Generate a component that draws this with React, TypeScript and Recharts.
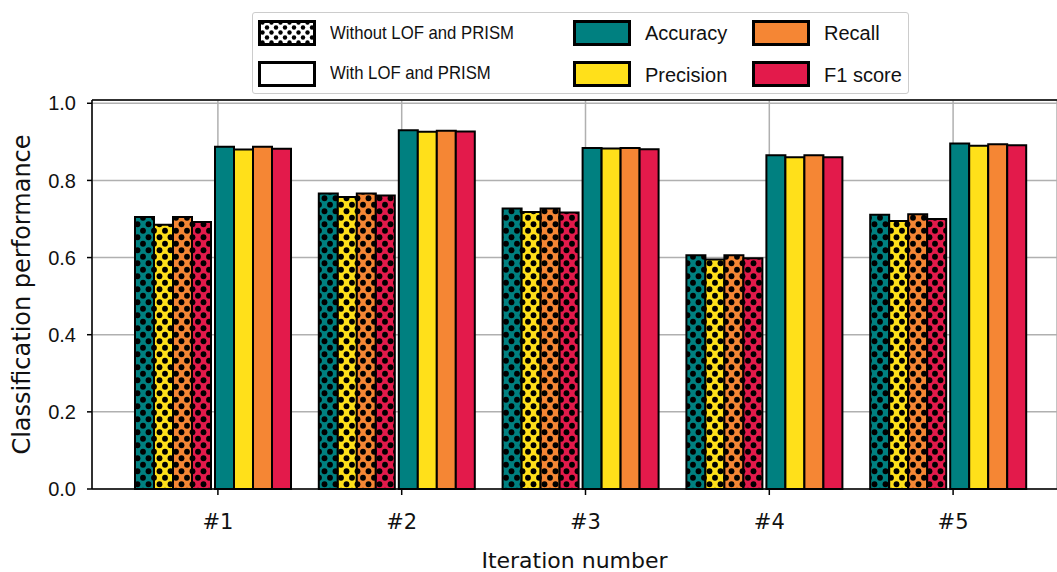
import React from 'react';
import {
  BarChart, Bar, XAxis, YAxis, CartesianGrid, ReferenceLine,
} from 'recharts';

const ITERATIONS = ['#1', '#2', '#3', '#4', '#5'];
const Y_TICKS = [0, 0.2, 0.4, 0.6, 0.8, 1.0];

// without LOF and PRISM (hatched bars)
const woAccuracy = [0.705, 0.766, 0.727, 0.606, 0.711];
const woPrecision = [0.685, 0.757, 0.718, 0.595, 0.695];
const woRecall = [0.705, 0.766, 0.727, 0.606, 0.712];
const woF1 = [0.692, 0.761, 0.717, 0.598, 0.700];

// with LOF and PRISM (solid bars)
const wAccuracy = [0.887, 0.930, 0.884, 0.865, 0.896];
const wPrecision = [0.880, 0.926, 0.883, 0.860, 0.890];
const wRecall = [0.887, 0.929, 0.884, 0.865, 0.894];
const wF1 = [0.882, 0.927, 0.881, 0.860, 0.891];

const COLORS = {
  acc: '#008080',
  prec: '#ffe01a',
  rec: '#f58634',
  f1: '#e31a4b',
};

const chartData = ITERATIONS.map((name, i) => ({
  name,
  woAcc: woAccuracy[i],
  woPrec: woPrecision[i],
  woRec: woRecall[i],
  woF1: woF1[i],
  wAcc: wAccuracy[i],
  wPrec: wPrecision[i],
  wRec: wRecall[i],
  wF1: wF1[i],
}));

const DotPattern = ({ id, color }: { id: string; color: string }) => (
  <pattern id={id} patternUnits="userSpaceOnUse" width={11} height={13}>
    <rect x={0} y={0} width={11} height={13} fill={color} />
    <circle cx={5.5} cy={3.25} r={2.9} fill="#000" />
    <circle cx={0} cy={9.75} r={2.9} fill="#000" />
    <circle cx={11} cy={9.75} r={2.9} fill="#000" />
  </pattern>
);

const LegendDots = ({ id }: { id: string }) => (
  <pattern id={id} patternUnits="userSpaceOnUse" width={9} height={10}>
    <rect x={0} y={0} width={9} height={10} fill="#fff" />
    <circle cx={4.5} cy={2.5} r={2.2} fill="#000" />
    <circle cx={0} cy={7.5} r={2.2} fill="#000" />
    <circle cx={9} cy={7.5} r={2.2} fill="#000" />
  </pattern>
);

const Swatch = ({ color, hatch }: { color: string; hatch?: boolean }) => (
  <svg width={58} height={26} style={{ display: 'block' }}>
    <defs>{hatch && <LegendDots id="legendDots" />}</defs>
    <rect x={1.5} y={1.5} width={55} height={23} fill={hatch ? 'url(#legendDots)' : color}
      stroke="#000" strokeWidth={3} />
  </svg>
);

const BAR = 19;
const barProps = { stroke: '#000', strokeWidth: 2, barSize: BAR, isAnimationActive: false };

export default function App() {
  const legendSmall: React.CSSProperties = {
    fontFamily: '"Liberation Sans", Arial, sans-serif',
    fontSize: 19, color: '#111', position: 'absolute', lineHeight: '24px',
    transform: 'scaleX(0.88)', transformOrigin: 'left center', whiteSpace: 'nowrap',
  };
  const legendBig: React.CSSProperties = {
    fontFamily: '"Liberation Sans", Arial, sans-serif',
    fontSize: 20, color: '#111', position: 'absolute', lineHeight: '26px',
  };
  return (
    <div style={{ position: 'absolute', left: 0, top: 0, width: 1057, height: 572, background: '#fff' }}>
      <BarChart
        width={1057}
        height={572}
        data={chartData}
        margin={{ top: 100, right: 0, bottom: 0, left: 20 }}
        barGap={0}
        barCategoryGap={0}
      >
        <defs>
          <DotPattern id="dotsAcc" color={COLORS.acc} />
          <DotPattern id="dotsPrec" color={COLORS.prec} />
          <DotPattern id="dotsRec" color={COLORS.rec} />
          <DotPattern id="dotsF1" color={COLORS.f1} />
        </defs>
        <CartesianGrid stroke="#b0b0b0" strokeWidth={1.5} />
        <XAxis
          dataKey="name"
          height={83}
          padding={{ left: 34, right: 12 }}
          axisLine={{ stroke: '#000', strokeWidth: 1.5 }}
          tickLine={{ stroke: '#000', strokeWidth: 1.5 }}
          tickSize={6}
          tickMargin={19}
          tick={{ fill: '#111', fontSize: 21, fontFamily: '"DejaVu Sans", sans-serif' }}
          label={{
            value: 'Iteration number', position: 'insideBottom', offset: 4,
            style: { fill: '#111', fontSize: 22, fontFamily: '"DejaVu Sans", sans-serif' },
          }}
        />
        <YAxis
          width={72}
          domain={[0, 1.0085]}
          ticks={Y_TICKS}
          tickFormatter={(v: number) => v.toFixed(1)}
          axisLine={{ stroke: '#000', strokeWidth: 1.5 }}
          tickLine={{ stroke: '#000', strokeWidth: 1.5 }}
          tickSize={5}
          tickMargin={11}
          tick={{ fill: '#111', fontSize: 20, fontFamily: '"Liberation Sans", Arial, sans-serif' }}
          label={{
            value: 'Classification performance', angle: -90, position: 'insideLeft', offset: 1,
            style: { textAnchor: 'middle', fill: '#111', fontSize: 24, fontFamily: '"DejaVu Sans", sans-serif' },
          }}
        />
        <ReferenceLine y={1.0085} stroke="#000" strokeWidth={1.5} ifOverflow="extendDomain" />
        <Bar dataKey="woAcc" fill="url(#dotsAcc)" {...barProps} />
        <Bar dataKey="woPrec" fill="url(#dotsPrec)" {...barProps} />
        <Bar dataKey="woRec" fill="url(#dotsRec)" {...barProps} />
        <Bar dataKey="woF1" fill="url(#dotsF1)" {...barProps} />
        <Bar dataKey="gapMid" fill="none" barSize={4} isAnimationActive={false} />
        <Bar dataKey="wAcc" fill={COLORS.acc} {...barProps} />
        <Bar dataKey="wPrec" fill={COLORS.prec} {...barProps} />
        <Bar dataKey="wRec" fill={COLORS.rec} {...barProps} />
        <Bar dataKey="wF1" fill={COLORS.f1} {...barProps} />
        <Bar dataKey="gapEnd" fill="none" barSize={10} isAnimationActive={false} />
      </BarChart>

      <div style={{
        position: 'absolute', left: 252, top: 12, width: 657, height: 82,
        border: '1.5px solid #cccccc', borderRadius: 3, background: '#fff', boxSizing: 'border-box',
      }}>
        <div style={{ position: 'absolute', left: 5, top: 7 }}>
          <Swatch color="#ffffff" hatch />
        </div>
        <div style={{ ...legendSmall, left: 77, top: 8 }}>Without LOF and PRISM</div>
        <div style={{ position: 'absolute', left: 5, top: 48 }}>
          <Swatch color="#ffffff" />
        </div>
        <div style={{ ...legendSmall, left: 77, top: 48 }}>With LOF and PRISM</div>

        <div style={{ position: 'absolute', left: 320, top: 7 }}>
          <Swatch color={COLORS.acc} />
        </div>
        <div style={{ ...legendBig, left: 392, top: 7 }}>Accuracy</div>
        <div style={{ position: 'absolute', left: 320, top: 48 }}>
          <Swatch color={COLORS.prec} />
        </div>
        <div style={{ ...legendBig, left: 392, top: 49 }}>Precision</div>

        <div style={{ position: 'absolute', left: 499, top: 7 }}>
          <Swatch color={COLORS.rec} />
        </div>
        <div style={{ ...legendBig, left: 571, top: 7 }}>Recall</div>
        <div style={{ position: 'absolute', left: 499, top: 48 }}>
          <Swatch color={COLORS.f1} />
        </div>
        <div style={{ ...legendBig, left: 571, top: 49 }}>F1 score</div>
      </div>
    </div>
  );
}
